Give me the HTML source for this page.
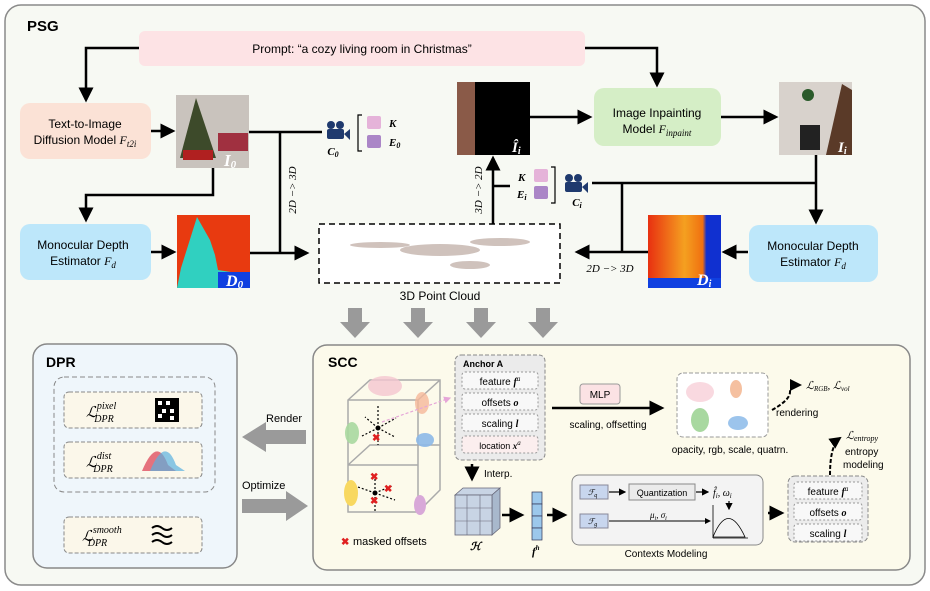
<!DOCTYPE html>
<html><head><meta charset="utf-8"><style>
html,body{margin:0;padding:0;background:#fff;}
svg{display:block;font-family:"Liberation Sans",sans-serif;}
.s{font-family:"Liberation Serif",serif;font-style:italic;}
</style></head><body>
<svg width="930" height="591" viewBox="0 0 930 591" xmlns="http://www.w3.org/2000/svg">
<defs>
<marker id="a" markerWidth="6" markerHeight="6" refX="5" refY="3" orient="auto" markerUnits="strokeWidth"><path d="M0,0 L6,3 L0,6 z" fill="#000"/></marker>
<marker id="ap" markerWidth="6" markerHeight="6" refX="5" refY="3" orient="auto" markerUnits="strokeWidth"><path d="M0,0 L6,3 L0,6 z" fill="#e6a6d8"/></marker>
<linearGradient id="d0" x1="0" y1="0" x2="0" y2="1"><stop offset="0" stop-color="#f03010"/><stop offset=".5" stop-color="#f05a10"/><stop offset="1" stop-color="#1040e0"/></linearGradient>
<linearGradient id="di" x1="0" y1="0" x2="1" y2="0"><stop offset="0" stop-color="#e83010"/><stop offset=".5" stop-color="#f5a020"/><stop offset=".75" stop-color="#f07010"/><stop offset=".8" stop-color="#1030d0"/><stop offset="1" stop-color="#1030d0"/></linearGradient>
</defs>
<!-- PSG -->
<rect x="5" y="5" width="920" height="580" rx="16" fill="#f7f9f3" stroke="#8a8a8a" stroke-width="1.5"/>
<text x="27" y="31" font-size="15" font-weight="bold">PSG</text>
<rect x="139" y="31" width="446" height="35" rx="6" fill="#fde3e5"/>
<text x="362" y="53" font-size="12" text-anchor="middle">Prompt: “a cozy living room in Christmas”</text>
<g stroke="#000" stroke-width="2.5" fill="none">
<path d="M139,48 H86 V100" marker-end="url(#a)"/>
<path d="M585,48 H657 V85" marker-end="url(#a)"/>
<path d="M151,131 H173" marker-end="url(#a)"/>
<path d="M249,132 H322"/>
<path d="M213,168 V195 H86 V220" marker-end="url(#a)"/>
<path d="M151,252 H174" marker-end="url(#a)"/>
<path d="M250,253 H307" marker-end="url(#a)"/>
<path d="M280,132 V253"/>
<path d="M530,117 H590" marker-end="url(#a)"/>
<path d="M721,117 H776" marker-end="url(#a)"/>
<path d="M816,155 V222" marker-end="url(#a)"/>
<path d="M592,183 H816"/>
<path d="M622,183 V252"/>
<path d="M648,252 H577" marker-end="url(#a)"/>
<path d="M748,252 H724" marker-end="url(#a)"/>
<path d="M493,224 V158" marker-end="url(#a)"/>
<path d="M493,186 H510"/>
</g>
<rect x="20" y="103" width="131" height="56" rx="10" fill="#fbe2d6"/>
<text x="85" y="128" font-size="12" text-anchor="middle">Text-to-Image</text>
<text x="85" y="144" font-size="12" text-anchor="middle">Diffusion Model <tspan class="s">F<tspan font-size="9" dy="3">t2i</tspan></tspan></text>
<rect x="20" y="224" width="131" height="56" rx="10" fill="#bde7fa"/>
<text x="83" y="249" font-size="12" text-anchor="middle">Monocular Depth</text>
<text x="83" y="265" font-size="12" text-anchor="middle">Estimator <tspan class="s">F<tspan font-size="9" dy="3">d</tspan></tspan></text>
<!-- I0 image -->
<rect x="176" y="95" width="73" height="73" fill="#c9c3bd"/>
<polygon points="196,98 180,158 216,158" fill="#3d4a2a"/>
<rect x="218" y="133" width="30" height="18" fill="#a03040"/>
<rect x="183" y="150" width="30" height="10" fill="#b02020"/>
<text x="224" y="166" font-size="17" font-weight="bold" fill="#fff" class="s">I<tspan font-size="11" dy="2">0</tspan></text>
<!-- D0 -->
<rect x="177" y="215" width="73" height="73" fill="#e83a10"/>
<polygon points="197,217 181,268 177,288 250,288 250,275 218,270 215,255 210,240" fill="#30d0c0"/>
<rect x="218" y="272" width="32" height="16" fill="#1040e0"/>
<text x="226" y="286" font-size="16" font-weight="bold" fill="#fff" class="s">D<tspan font-size="11" dy="2">0</tspan></text>
<!-- camera C0 -->
<g fill="#1f3a6e"><circle cx="331" cy="125" r="4"/><circle cx="340" cy="125" r="4"/><rect x="327" y="129" width="17" height="10" rx="2"/><polygon points="344,134 350,129 350,140"/></g>
<text x="333" y="155" font-size="11" font-weight="bold" class="s" text-anchor="middle">C<tspan font-size="8" dy="2">0</tspan></text>
<path d="M362,115 H358 V151 H362" stroke="#000" stroke-width="1.2" fill="none"/>
<rect x="367" y="116" width="14" height="13" rx="2" fill="#e5b3d9"/>
<rect x="367" y="135" width="14" height="13" rx="2" fill="#ab86c7"/>
<text x="389" y="127" font-size="11" font-weight="bold" class="s">K</text>
<text x="389" y="146" font-size="11" font-weight="bold" class="s">E<tspan font-size="8" dy="2">0</tspan></text>
<text transform="translate(296,190) rotate(-90)" font-size="11" class="s" text-anchor="middle">2D −&gt; 3D</text>
<!-- point cloud -->
<rect x="319" y="224" width="241" height="59" fill="#fff" stroke="#000" stroke-width="1.5" stroke-dasharray="6,4"/>
<g fill="#b09a90" opacity=".6"><ellipse cx="380" cy="245" rx="30" ry="3"/><ellipse cx="440" cy="250" rx="40" ry="6"/><ellipse cx="500" cy="242" rx="30" ry="4"/><ellipse cx="470" cy="265" rx="20" ry="4"/></g>
<text x="440" y="300" font-size="12" text-anchor="middle">3D Point Cloud</text>
<!-- Ii hat -->
<rect x="457" y="82" width="18" height="73" fill="#8a5a48"/>
<rect x="475" y="82" width="55" height="73" fill="#000"/>
<text x="512" y="152" font-size="15" font-weight="bold" fill="#fff" class="s">Î<tspan font-size="10" dy="2">i</tspan></text>
<text transform="translate(482,190) rotate(-90)" font-size="11" class="s" text-anchor="middle">3D −&gt; 2D</text>
<rect x="534" y="169" width="14" height="13" rx="2" fill="#e5b3d9"/>
<rect x="534" y="186" width="14" height="13" rx="2" fill="#ab86c7"/>
<text x="518" y="181" font-size="11" font-weight="bold" class="s">K</text>
<text x="517" y="198" font-size="11" font-weight="bold" class="s">E<tspan font-size="8" dy="2">i</tspan></text>
<path d="M551,167 H555 V203 H551" stroke="#000" stroke-width="1.2" fill="none"/>
<g fill="#1f3a6e"><circle cx="569" cy="178" r="4"/><circle cx="578" cy="178" r="4"/><rect x="565" y="182" width="17" height="10" rx="2"/><polygon points="582,187 588,182 588,193"/></g>
<text x="577" y="206" font-size="11" font-weight="bold" class="s" text-anchor="middle">C<tspan font-size="8" dy="2">i</tspan></text>
<rect x="594" y="88" width="127" height="58" rx="10" fill="#d5eec6"/>
<text x="657" y="117" font-size="12" text-anchor="middle">Image Inpainting</text>
<text x="657" y="133" font-size="12" text-anchor="middle">Model <tspan class="s">F<tspan font-size="9" dy="3">inpaint</tspan></tspan></text>
<!-- Ii -->
<rect x="779" y="82" width="73" height="73" fill="#d8d2cc"/>
<rect x="800" y="125" width="20" height="25" fill="#222"/>
<polygon points="842,84 826,155 852,155 852,90" fill="#5a3a28"/>
<circle cx="808" cy="95" r="6" fill="#2a5a2a"/>
<text x="838" y="152" font-size="15" font-weight="bold" fill="#fff" class="s">I<tspan font-size="10" dy="2">i</tspan></text>
<!-- Di -->
<rect x="648" y="215" width="73" height="73" fill="url(#di)"/>
<rect x="648" y="278" width="73" height="10" fill="#1040e0"/>
<text x="697" y="285" font-size="16" font-weight="bold" fill="#fff" class="s">D<tspan font-size="10" dy="2">i</tspan></text>
<text x="610" y="272" font-size="11" class="s" text-anchor="middle">2D −&gt; 3D</text>
<rect x="749" y="225" width="129" height="57" rx="10" fill="#bde7fa"/>
<text x="813" y="250" font-size="12" text-anchor="middle">Monocular Depth</text>
<text x="813" y="266" font-size="12" text-anchor="middle">Estimator <tspan class="s">F<tspan font-size="9" dy="3">d</tspan></tspan></text>
<!-- gray down arrows -->
<g fill="#9a9a9a">
<polygon points="348,308 362,308 362,322 370,322 355,338 340,322 348,322"/>
<polygon points="411,308 425,308 425,322 433,322 418,338 403,322 411,322"/>
<polygon points="474,308 488,308 488,322 496,322 481,338 466,322 474,322"/>
<polygon points="536,308 550,308 550,322 558,322 543,338 528,322 536,322"/>
</g>
<!-- DPR -->
<rect x="33" y="344" width="204" height="224" rx="14" fill="#eff6fb" stroke="#888" stroke-width="1.5"/>
<text x="46" y="367" font-size="14" font-weight="bold">DPR</text>
<rect x="54" y="377" width="161" height="115" rx="10" fill="none" stroke="#888" stroke-dasharray="5,3"/>
<rect x="64" y="392" width="138" height="36" rx="5" fill="#fbf7ea" stroke="#888" stroke-dasharray="4,2"/>
<rect x="64" y="442" width="138" height="36" rx="5" fill="#fbf7ea" stroke="#888" stroke-dasharray="4,2"/>
<rect x="64" y="517" width="138" height="36" rx="5" fill="#fbf7ea" stroke="#888" stroke-dasharray="4,2"/>
<text x="86" y="417" font-size="15" class="s">ℒ<tspan font-size="10" dy="-8">pixel</tspan><tspan font-size="10" dx="-22" dy="13">DPR</tspan></text>
<text x="86" y="467" font-size="15" class="s">ℒ<tspan font-size="10" dy="-8">dist</tspan><tspan font-size="10" dx="-18" dy="13">DPR</tspan></text>
<text x="82" y="541" font-size="15" class="s">ℒ<tspan font-size="10" dy="-8">smooth</tspan><tspan font-size="10" dx="-34" dy="13">DPR</tspan></text>
<rect x="155" y="398" width="24" height="24" fill="#000"/>
<g fill="#fff"><rect x="158" y="401" width="4" height="4"/><rect x="166" y="401" width="4" height="4"/><rect x="162" y="409" width="4" height="4"/><rect x="170" y="409" width="4" height="4"/><rect x="158" y="414" width="4" height="4"/><rect x="170" y="416" width="4" height="4"/></g>
<path d="M142,471 Q157,435 168,465 L176,471 Z" fill="#e05a6a" opacity=".85"/>
<path d="M150,471 Q165,435 176,465 L185,471 Z" fill="#5ab0e0" opacity=".7"/>
<g stroke="#000" stroke-width="2" fill="none"><path d="M152,528 q5,-4 10,0 t10,0"/><path d="M152,535 q5,-4 10,0 t10,0"/><path d="M152,542 q5,-4 10,0 t10,0"/></g>
<!-- render/optimize -->
<text x="266" y="422" font-size="11">Render</text>
<polygon points="306,430 266,430 266,422 242,437 266,452 266,444 306,444" fill="#9a9a9a"/>
<text x="242" y="489" font-size="11">Optimize</text>
<polygon points="242,499 286,499 286,491 308,506 286,521 286,513 242,513" fill="#9a9a9a"/>
<!-- SCC -->
<rect x="313" y="345" width="597" height="225" rx="14" fill="#fcfaeb" stroke="#888" stroke-width="1.5"/>
<text x="328" y="367" font-size="14" font-weight="bold">SCC</text>
<!-- cube -->
<g stroke="#aaa" stroke-width="1.5" fill="none">
<path d="M348,400 L370,380 H440 V490 L418,512 H348 Z M348,400 H418 V512 M418,400 L440,380"/>
<path d="M348,465 L370,445 H440 M348,465 H418"/>
</g>
<ellipse cx="385" cy="386" rx="17" ry="10" fill="#f4c6d0" opacity=".8"/>
<ellipse cx="422" cy="403" rx="7" ry="11" fill="#f5b89a" opacity=".8"/>
<ellipse cx="352" cy="433" rx="7" ry="11" fill="#a8d8a0" opacity=".9"/>
<ellipse cx="425" cy="440" rx="9" ry="7" fill="#8cb8e8" opacity=".9"/>
<ellipse cx="351" cy="493" rx="7" ry="13" fill="#f8d860"/>
<ellipse cx="420" cy="505" rx="6" ry="10" fill="#d8a8d8"/>
<g stroke="#000" stroke-width="1.2" stroke-dasharray="2,2" fill="none">
<path d="M378,428 V405 M378,428 L396,418 M378,428 L362,436 M378,428 L395,437 M378,428 V445 M378,428 L365,417"/>
<path d="M375,493 L358,487 M375,493 L392,486 M375,493 L395,500 M375,493 V475 M375,493 V512"/>
</g>
<circle cx="378" cy="428" r="2.5"/><circle cx="375" cy="493" r="2.5"/>
<g fill="#e02020" font-size="10" font-weight="bold"><text x="372" y="441">✖</text><text x="370" y="480">✖</text><text x="384" y="492">✖</text><text x="370" y="504">✖</text><text x="341" y="545">✖</text></g>
<text x="353" y="545" font-size="11">masked offsets</text>
<path d="M382,422 L450,398" stroke="#e6a6d8" stroke-width="1.2" stroke-dasharray="3,2" marker-end="url(#ap)"/>
<!-- anchor -->
<rect x="455" y="355" width="90" height="105" rx="6" fill="#ebebeb" stroke="#888" stroke-dasharray="4,2"/>
<text x="463" y="367" font-size="9" font-weight="bold">Anchor A</text>
<g fill="#f8f8f8" stroke="#999" stroke-dasharray="2,2"><rect x="462" y="372" width="76" height="17" rx="3"/><rect x="462" y="393" width="76" height="17" rx="3"/><rect x="462" y="414" width="76" height="17" rx="3"/><rect x="462" y="436" width="76" height="17" rx="3" fill="#fbeeee"/></g>
<text x="500" y="385" font-size="10" text-anchor="middle">feature <tspan class="s" font-weight="bold">f</tspan><tspan class="s" font-size="7" dy="-4">a</tspan></text>
<text x="500" y="406" font-size="10" text-anchor="middle">offsets <tspan class="s" font-weight="bold">o</tspan></text>
<text x="500" y="427" font-size="10" text-anchor="middle">scaling <tspan class="s" font-weight="bold">l</tspan></text>
<text x="500" y="449" font-size="9" text-anchor="middle">location <tspan class="s" font-weight="bold">x</tspan><tspan class="s" font-size="7" dy="-4">a</tspan></text>
<rect x="580" y="384" width="40" height="20" rx="3" fill="#fbe2e4" stroke="#999"/>
<text x="600" y="398" font-size="10" text-anchor="middle">MLP</text>
<path d="M552,408 H662" stroke="#000" stroke-width="2.5" marker-end="url(#a)"/>
<text x="608" y="428" font-size="10" text-anchor="middle">scaling, offsetting</text>
<rect x="677" y="373" width="91" height="64" rx="6" fill="#fff" stroke="#999" stroke-dasharray="4,2"/>
<ellipse cx="700" cy="392" rx="14" ry="10" fill="#f7d0d8" opacity=".8"/>
<ellipse cx="736" cy="389" rx="6" ry="9" fill="#f5c0a0"/>
<ellipse cx="700" cy="420" rx="9" ry="12" fill="#a8d8a0"/>
<ellipse cx="738" cy="423" rx="10" ry="7" fill="#9cc4ec"/>
<text x="730" y="453" font-size="10" text-anchor="middle">opacity, rgb, scale, quatrn.</text>
<path d="M772,410 Q790,400 790,392 Q790,385 800,385" stroke="#000" stroke-width="2" stroke-dasharray="4,2" fill="none" marker-end="url(#a)"/>
<text x="776" y="416" font-size="10">rendering</text>
<text x="806" y="389" font-size="11" class="s">ℒ<tspan font-size="7" dy="2">RGB</tspan><tspan dy="-2">, ℒ</tspan><tspan font-size="7" dy="2">vol</tspan></text>
<!-- interp -->
<path d="M472,464 V479" stroke="#000" stroke-width="2.5" marker-end="url(#a)"/>
<text x="484" y="477" font-size="10">Interp.</text>
<g stroke="#667" stroke-width=".8" fill="#c8d4e4"><path d="M455,495 L463,488 H500 L492,495 Z"/><path d="M492,495 L500,488 V528 L492,535 Z" fill="#a8b8cc"/><rect x="455" y="495" width="37" height="40"/></g>
<g stroke="#667" stroke-width=".6"><path d="M467,495 V535 M480,495 V535 M455,508 H492 M455,521 H492"/></g>
<text x="470" y="550" font-size="11" class="s" font-weight="bold">ℋ</text>
<path d="M502,515 H522" stroke="#000" stroke-width="2.5" marker-end="url(#a)"/>
<g stroke="#335" stroke-width=".7" fill="#9cc8ec"><rect x="532" y="492" width="10" height="12"/><rect x="532" y="504" width="10" height="12"/><rect x="532" y="516" width="10" height="12"/><rect x="532" y="528" width="10" height="12"/></g>
<text x="532" y="555" font-size="11" class="s" font-weight="bold">f<tspan font-size="7" dy="-5">h</tspan></text>
<path d="M547,515 H565" stroke="#000" stroke-width="2.5" marker-end="url(#a)"/>
<!-- contexts -->
<rect x="572" y="475" width="191" height="70" rx="7" fill="#f3f3f3" stroke="#888"/>
<rect x="580" y="485" width="28" height="14" fill="#c8d6ee" stroke="#889"/>
<text x="588" y="495" font-size="8" class="s">ℱ<tspan font-size="6" dy="2">q</tspan></text>
<rect x="580" y="514" width="28" height="14" fill="#c8d6ee" stroke="#889"/>
<text x="588" y="524" font-size="8" class="s">ℱ<tspan font-size="6" dy="2">g</tspan></text>
<path d="M609,492 H625" stroke="#000" stroke-width="1.2" marker-end="url(#a)"/>
<rect x="629" y="484" width="66" height="16" fill="#ebebeb" stroke="#888"/>
<text x="662" y="496" font-size="9" text-anchor="middle">Quantization</text>
<path d="M696,492 H708" stroke="#000" stroke-width="1.2" marker-end="url(#a)"/>
<text x="713" y="496" font-size="10" class="s">f̂<tspan font-size="7" dy="2">i</tspan><tspan dy="-2">, ω</tspan><tspan font-size="7" dy="2">i</tspan></text>
<path d="M609,521 H710" stroke="#000" stroke-width="1" marker-end="url(#a)"/>
<text x="650" y="518" font-size="9" class="s">μ<tspan font-size="6" dy="2">i</tspan><tspan dy="-2">, σ</tspan><tspan font-size="6" dy="2">i</tspan></text>
<path d="M729,501 V509" stroke="#000" stroke-width="1.2" marker-end="url(#a)"/>
<path d="M713,537 Q728,500 745,537 Z" fill="none" stroke="#000" stroke-width=".8"/>
<path d="M713,538 H748 M713,505 V538" stroke="#000" stroke-width=".8"/>
<text x="666" y="557" font-size="10" text-anchor="middle">Contexts Modeling</text>
<path d="M768,513 H782" stroke="#000" stroke-width="2.5" marker-end="url(#a)"/>
<rect x="788" y="476" width="80" height="66" rx="7" fill="#ececec" stroke="#888" stroke-dasharray="4,2"/>
<g fill="#f8f8f8" stroke="#999" stroke-dasharray="2,2"><rect x="794" y="482" width="68" height="17" rx="3"/><rect x="794" y="503" width="68" height="17" rx="3"/><rect x="794" y="524" width="68" height="17" rx="3"/></g>
<text x="828" y="495" font-size="10" text-anchor="middle">feature <tspan class="s" font-weight="bold">f</tspan><tspan class="s" font-size="7" dy="-4">a</tspan></text>
<text x="828" y="516" font-size="10" text-anchor="middle">offsets <tspan class="s" font-weight="bold">o</tspan></text>
<text x="828" y="537" font-size="10" text-anchor="middle">scaling <tspan class="s" font-weight="bold">l</tspan></text>
<path d="M830,475 Q830,445 840,438" stroke="#000" stroke-width="2" stroke-dasharray="4,2" fill="none" marker-end="url(#a)"/>
<text x="845" y="455" font-size="10">entropy</text>
<text x="843" y="468" font-size="10">modeling</text>
<text x="846" y="439" font-size="11" class="s">ℒ<tspan font-size="8" dy="2">entropy</tspan></text>
</svg>
</body></html>
